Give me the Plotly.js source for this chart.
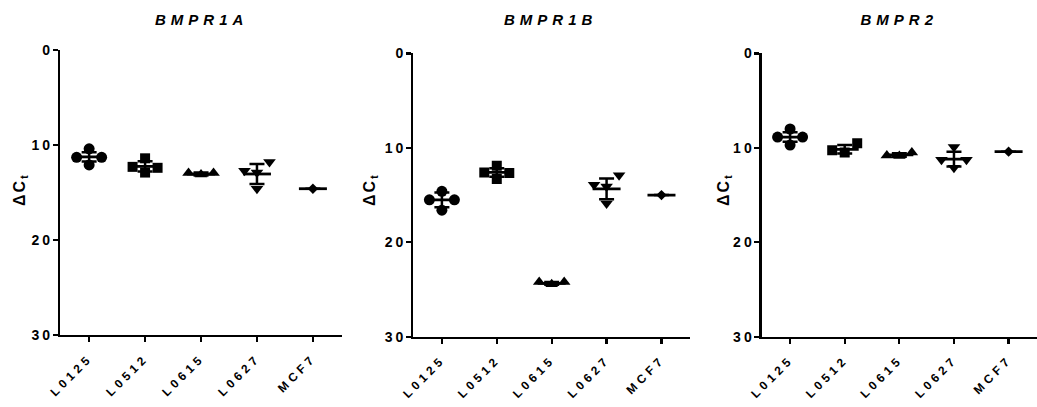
<!DOCTYPE html>
<html>
<head>
<meta charset="utf-8">
<script src="https://cdn.plot.ly/plotly-3.0.1.min.js"></script>
<style>
  html, body { margin: 0; padding: 0; background: #fff; }
  #chart { width: 1037px; height: 407px; }
  g.xtick text, g.x2tick text, g.x3tick text { letter-spacing: 4px; }
  g.ytick text, g.y2tick text, g.y3tick text { letter-spacing: 3px; }
  g.annotation[data-index="0"] text, g.annotation[data-index="2"] text, g.annotation[data-index="4"] text { letter-spacing: 5px; }
  g.annotation[data-index="1"] text, g.annotation[data-index="3"] text, g.annotation[data-index="5"] text { letter-spacing: 2px; }
</style>
</head>
<body>
<div id="chart"></div>
<script>
// ---------------- DATA (ΔCt values) ----------------
const categories = ['L0125', 'L0512', 'L0615', 'L0627', 'MCF7'];
const genes = ['BMPR1A', 'BMPR1B', 'BMPR2'];
const symbols = ['circle', 'square', 'triangle-up', 'triangle-down', 'diamond'];

// replicate values per cell line (listed in entry order)
const bmpr1a_L0125 = [10.4, 12.1, 11.3, 11.3];
const bmpr1a_L0512 = [11.4, 12.9, 12.3, 12.4];
const bmpr1a_L0615 = [13.1, 12.95, 12.95];
const bmpr1a_L0627 = [14.6, 12.9, 12.7, 11.8];
const bmpr1a_MCF7  = [14.6];
const bmpr1a_mean  = [11.25, 12.25, 13.05, 13.05, 14.6];
const bmpr1a_sd    = [0.48, 0.53, 0.15, 1.05, 0];

const bmpr1b_L0125 = [14.6, 16.6, 15.5, 15.5];
const bmpr1b_L0512 = [11.9, 13.3, 12.6, 12.65];
const bmpr1b_L0615 = [24.45, 24.2, 24.2];
const bmpr1b_L0627 = [15.9, 14.1, 13.9, 12.9];
const bmpr1b_MCF7  = [15.0];
const bmpr1b_mean  = [15.5, 12.6, 24.35, 14.35, 15.0];
const bmpr1b_sd    = [0.78, 0.45, 0.15, 1.1, 0];

const bmpr2_L0125 = [8.0, 9.7, 8.85, 8.85];
const bmpr2_L0512 = [10.5, 10.25, 9.5];
const bmpr2_L0615 = [10.85, 10.8, 10.5];
const bmpr2_L0627 = [9.9, 12.1, 11.25, 11.25];
const bmpr2_MCF7  = [10.4];
const bmpr2_mean  = [8.85, 10.15, 10.75, 11.2, 10.4];
const bmpr2_sd    = [0.5, 0.45, 0.18, 0.78, 0];

const panels = [
  { gene: genes[0], groups: [bmpr1a_L0125, bmpr1a_L0512, bmpr1a_L0615, bmpr1a_L0627, bmpr1a_MCF7], mean: bmpr1a_mean, sd: bmpr1a_sd },
  { gene: genes[1], groups: [bmpr1b_L0125, bmpr1b_L0512, bmpr1b_L0615, bmpr1b_L0627, bmpr1b_MCF7], mean: bmpr1b_mean, sd: bmpr1b_sd },
  { gene: genes[2], groups: [bmpr2_L0125, bmpr2_L0512, bmpr2_L0615, bmpr2_L0627, bmpr2_MCF7], mean: bmpr2_mean, sd: bmpr2_sd }
];

// ---------------- LAYOUT GEOMETRY ----------------
const W = 1037, H = 407;
const xDomains = [[0.0579, 0.3298], [0.3986, 0.6654], [0.7345, 1.0]];
const yDomains = [[0.1769, 0.8771], [0.1727, 0.8686], [0.1727, 0.8686]];
const xRange = [-0.52, 4.52];
const yRange = [30, 0];
const titleX = [201, 551, 899];
const ytitleX = [20, 370, 724];

const FONT = 'Arial, "Liberation Sans", Helvetica, sans-serif';

// simple scatter-dot spreading (Prism-like): each point goes to the first
// free column (0, -1, +1, -2, +2 ...) where it does not overlap vertically
function swarm(vals, pxPerY, minGapPx) {
  const placed = [];
  const cand = [0, -1, 1, -2, 2, -3, 3];
  return vals.map(v => {
    for (const k of cand) {
      if (!placed.some(p => p.k === k && Math.abs(p.v - v) * pxPerY < minGapPx)) {
        placed.push({ v, k });
        return k;
      }
    }
    return 0;
  });
}

const traces = [];
const layout = {
  width: W, height: H,
  margin: { l: 0, r: 0, t: 0, b: 0, pad: 0 },
  paper_bgcolor: '#ffffff', plot_bgcolor: '#ffffff',
  showlegend: false,
  font: { family: FONT, color: '#000', size: 13, weight: 700 },
  annotations: []
};

panels.forEach((p, i) => {
  const sfx = i === 0 ? '' : String(i + 1);
  const xa = 'x' + sfx, ya = 'y' + sfx;
  const pxPerX = (xDomains[i][1] - xDomains[i][0]) * W / (xRange[1] - xRange[0]);
  const pxPerY = (yDomains[i][1] - yDomains[i][0]) * H / Math.abs(yRange[0] - yRange[1]);
  const stepPx = 12.5, gapPx = 12;

  p.groups.forEach((vals, g) => {
    const ks = swarm(vals, pxPerY, gapPx);
    traces.push({
      type: 'scatter', mode: 'markers', xaxis: xa, yaxis: ya,
      x: ks.map(k => g + k * stepPx / pxPerX),
      y: vals,
      marker: {
        symbol: symbols[g],
        size: g === 4 ? 8 : (g === 1 ? 10 : 11),
        color: '#000',
        line: { width: 0 }
      },
      hoverinfo: 'y'
    });
  });

  traces.push({
    type: 'scatter', mode: 'markers', xaxis: xa, yaxis: ya,
    x: categories.map((c, g) => g),
    y: p.mean,
    marker: { symbol: 'line-ew', size: 20, color: '#000', line: { width: 2.8, color: '#000' } },
    error_y: { type: 'data', array: p.sd, visible: true, color: '#000', thickness: 2.5, width: 7.5 },
    hoverinfo: 'y'
  });

  layout['xaxis' + sfx] = {
    domain: xDomains[i], anchor: ya, range: xRange,
    tickmode: 'array', tickvals: categories.map((c, g) => g), ticktext: categories,
    tickangle: -45, automargin: false, ticklabelstandoff: 4,
    showline: true, linecolor: '#000', linewidth: 2.2,
    ticks: 'outside', ticklen: 5, tickwidth: 2.2, tickcolor: '#000',
    showgrid: false, zeroline: false, fixedrange: true,
    tickfont: { family: FONT, size: 12, weight: 700, color: '#000' }
  };
  layout['yaxis' + sfx] = {
    domain: yDomains[i], anchor: xa, range: yRange,
    tickmode: 'array', tickvals: [0, 10, 20, 30], automargin: false, ticklabelstandoff: -3,
    showline: true, linecolor: '#000', linewidth: 2.2,
    ticks: 'outside', ticklen: 5, tickwidth: 2.2, tickcolor: '#000',
    showgrid: false, zeroline: false, fixedrange: true,
    tickfont: { family: FONT, size: 14, weight: 700, color: '#000' }
  };

  layout.annotations.push({
    text: p.gene, xref: 'paper', yref: 'paper',
    x: titleX[i] / W, y: (H - 19) / H, xanchor: 'center', yanchor: 'middle',
    showarrow: false,
    font: { family: FONT, size: 15, weight: 700, style: 'italic', color: '#000' }
  });
  layout.annotations.push({
    text: 'ΔC<sub>t</sub>', xref: 'paper', yref: 'paper',
    x: ytitleX[i] / W, y: (H - 190) / H, xanchor: 'center', yanchor: 'middle',
    textangle: -90, showarrow: false,
    font: { family: FONT, size: 16, weight: 700, color: '#000' }
  });
});

Plotly.newPlot('chart', traces, layout, { displayModeBar: false, staticPlot: true });
</script>
</body>
</html>
